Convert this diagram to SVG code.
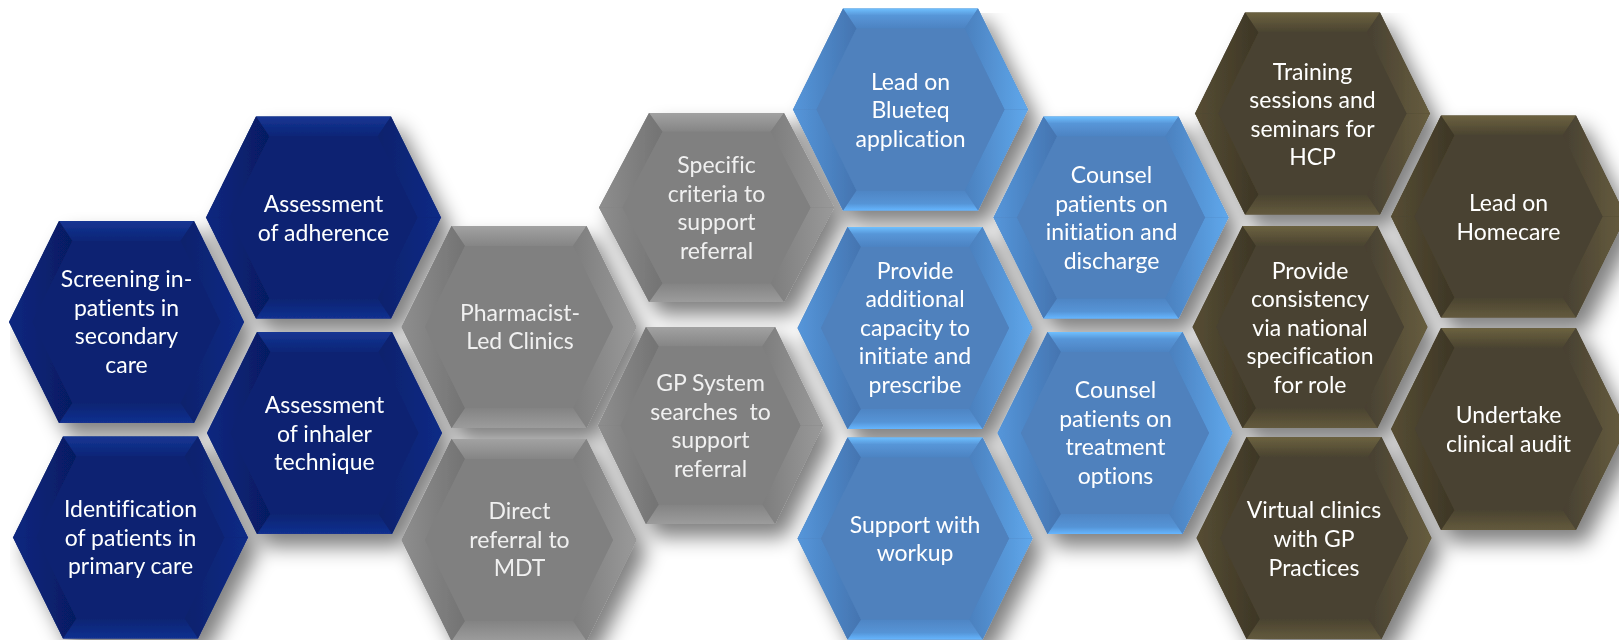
<svg xmlns="http://www.w3.org/2000/svg" xmlns:xlink="http://www.w3.org/1999/xlink" width="1619" height="640" viewBox="0 0 1619 640">
<style>
.t{font-family:Lato,"Open Sans","Liberation Sans",sans-serif;font-size:23px;fill:#ffffff;text-anchor:middle;white-space:pre;font-variant-ligatures:none;font-feature-settings:"liga" 0,"clig" 0}
.tg{fill:#f0f0f0}
</style>
<defs>
<filter id="sh" filterUnits="userSpaceOnUse" x="0" y="0" width="1619" height="640">
<feGaussianBlur in="SourceAlpha" stdDeviation="10"/>
<feOffset dx="10" dy="13" result="b"/>
<feComponentTransfer><feFuncA type="linear" slope="0.5"/></feComponentTransfer>
<feMerge><feMergeNode/><feMergeNode in="SourceGraphic"/></feMerge>
</filter>
<!-- navy -->
<linearGradient id="nT" x1="0" y1="0" x2="0" y2="1"><stop offset="0" stop-color="#163593"/><stop offset="1" stop-color="#0a2577"/></linearGradient>
<linearGradient id="nB" x1="0" y1="1" x2="0" y2="0"><stop offset="0" stop-color="#123090"/><stop offset="1" stop-color="#0a2472"/></linearGradient>
<linearGradient id="nL" x1="0" y1="0" x2="1" y2="0"><stop offset="0" stop-color="#0a2780"/><stop offset="1" stop-color="#061c62"/></linearGradient>
<linearGradient id="nR" x1="1" y1="0" x2="0" y2="0"><stop offset="0" stop-color="#0c2a86"/><stop offset="1" stop-color="#09226c"/></linearGradient>
<!-- grey -->
<linearGradient id="gT" x1="0" y1="0" x2="0" y2="1"><stop offset="0" stop-color="#a2a2a2"/><stop offset="1" stop-color="#858585"/></linearGradient>
<linearGradient id="gB" x1="0" y1="1" x2="0" y2="0"><stop offset="0" stop-color="#9c9c9c"/><stop offset="1" stop-color="#838383"/></linearGradient>
<linearGradient id="gL" x1="0" y1="0" x2="1" y2="0"><stop offset="0" stop-color="#8e8e8e"/><stop offset="1" stop-color="#737373"/></linearGradient>
<linearGradient id="gR" x1="1" y1="0" x2="0" y2="0"><stop offset="0" stop-color="#9a9a9a"/><stop offset="1" stop-color="#7d7d7d"/></linearGradient>
<!-- sky -->
<linearGradient id="sT" x1="0" y1="0" x2="0" y2="1"><stop offset="0" stop-color="#6fc0ff"/><stop offset="0.35" stop-color="#5796d8"/><stop offset="1" stop-color="#4d83c2"/></linearGradient>
<linearGradient id="sB" x1="0" y1="1" x2="0" y2="0"><stop offset="0" stop-color="#66b6ff"/><stop offset="0.35" stop-color="#5594d6"/><stop offset="1" stop-color="#4f85c4"/></linearGradient>
<linearGradient id="sL" x1="0" y1="0" x2="1" y2="0"><stop offset="0" stop-color="#5596da"/><stop offset="1" stop-color="#4474b0"/></linearGradient>
<linearGradient id="sR" x1="1" y1="0" x2="0" y2="0"><stop offset="0" stop-color="#5fa8ec"/><stop offset="1" stop-color="#4b80be"/></linearGradient>
<!-- olive -->
<linearGradient id="oT" x1="0" y1="0" x2="0" y2="1"><stop offset="0" stop-color="#6c6240"/><stop offset="1" stop-color="#4a4330"/></linearGradient>
<linearGradient id="oB" x1="0" y1="1" x2="0" y2="0"><stop offset="0" stop-color="#635a3d"/><stop offset="1" stop-color="#4a4330"/></linearGradient>
<linearGradient id="oL" x1="0" y1="0" x2="1" y2="0"><stop offset="0" stop-color="#564d33"/><stop offset="1" stop-color="#3d3626"/></linearGradient>
<linearGradient id="oR" x1="1" y1="0" x2="0" y2="0"><stop offset="0" stop-color="#675d3e"/><stop offset="1" stop-color="#474032"/></linearGradient>

<g id="hex-navy">
<polygon points="-117.5,0 -67.5,-101 67.5,-101 117.5,0 67.5,101 -67.5,101" fill="#0a2472"/>
<polygon points="-67.5,-101 67.5,-101 54,-81 -54,-81" fill="url(#nT)"/>
<polygon points="67.5,-101 117.5,0 94,0 54,-81" fill="url(#nR)"/>
<polygon points="117.5,0 67.5,101 54,81 94,0" fill="url(#nR)"/>
<polygon points="67.5,101 -67.5,101 -54,81 54,81" fill="url(#nB)"/>
<polygon points="-67.5,101 -117.5,0 -94,0 -54,81" fill="url(#nL)"/>
<polygon points="-117.5,0 -67.5,-101 -54,-81 -94,0" fill="url(#nL)"/>
<polygon points="-94,0 -54,-81 54,-81 94,0 54,81 -54,81" fill="#0a2472"/>
</g>
<g id="hex-grey">
<polygon points="-117.5,0 -67.5,-101 67.5,-101 117.5,0 67.5,101 -67.5,101" fill="#808080"/>
<polygon points="-67.5,-101 67.5,-101 54,-81 -54,-81" fill="url(#gT)"/>
<polygon points="67.5,-101 117.5,0 94,0 54,-81" fill="url(#gR)"/>
<polygon points="117.5,0 67.5,101 54,81 94,0" fill="url(#gR)"/>
<polygon points="67.5,101 -67.5,101 -54,81 54,81" fill="url(#gB)"/>
<polygon points="-67.5,101 -117.5,0 -94,0 -54,81" fill="url(#gL)"/>
<polygon points="-117.5,0 -67.5,-101 -54,-81 -94,0" fill="url(#gL)"/>
<polygon points="-94,0 -54,-81 54,-81 94,0 54,81 -54,81" fill="#808080"/>
</g>
<g id="hex-sky">
<polygon points="-117.5,0 -67.5,-101 67.5,-101 117.5,0 67.5,101 -67.5,101" fill="#4f81bd"/>
<polygon points="-67.5,-101 67.5,-101 54,-81 -54,-81" fill="url(#sT)"/>
<polygon points="67.5,-101 117.5,0 94,0 54,-81" fill="url(#sR)"/>
<polygon points="117.5,0 67.5,101 54,81 94,0" fill="url(#sR)"/>
<polygon points="67.5,101 -67.5,101 -54,81 54,81" fill="url(#sB)"/>
<polygon points="-67.5,101 -117.5,0 -94,0 -54,81" fill="url(#sL)"/>
<polygon points="-117.5,0 -67.5,-101 -54,-81 -94,0" fill="url(#sL)"/>
<polygon points="-94,0 -54,-81 54,-81 94,0 54,81 -54,81" fill="#4f81bd"/>
</g>
<g id="hex-olive">
<polygon points="-117.5,0 -67.5,-101 67.5,-101 117.5,0 67.5,101 -67.5,101" fill="#4a4330"/>
<polygon points="-67.5,-101 67.5,-101 54,-81 -54,-81" fill="url(#oT)"/>
<polygon points="67.5,-101 117.5,0 94,0 54,-81" fill="url(#oR)"/>
<polygon points="117.5,0 67.5,101 54,81 94,0" fill="url(#oR)"/>
<polygon points="67.5,101 -67.5,101 -54,81 54,81" fill="url(#oB)"/>
<polygon points="-67.5,101 -117.5,0 -94,0 -54,81" fill="url(#oL)"/>
<polygon points="-117.5,0 -67.5,-101 -54,-81 -94,0" fill="url(#oL)"/>
<polygon points="-94,0 -54,-81 54,-81 94,0 54,81 -54,81" fill="#4a4330"/>
</g>
</defs>

<rect width="1619" height="640" fill="#ffffff"/>

<g id="connectors"></g>

<g id="nodes" filter="url(#sh)">
<g id="n-screening">
<use xlink:href="#hex-navy" transform="translate(126.5,322)"/>
<text class="t"><tspan x="126.5" y="287">Screening in-</tspan><tspan x="126.5" y="315.7">patients in</tspan><tspan x="126.5" y="344.4">secondary</tspan><tspan x="126.5" y="373">care</tspan></text>
</g>
<g id="n-identification">
<use xlink:href="#hex-navy" transform="translate(130.5,537.5)"/>
<text class="t"><tspan x="130.5" y="517">Identification</tspan><tspan x="130.5" y="545.7">of patients in</tspan><tspan x="130.5" y="574.4">primary care</tspan></text>
</g>
<g id="n-adherence">
<use xlink:href="#hex-navy" transform="translate(323.5,217.5)"/>
<text class="t"><tspan x="323.5" y="212">Assessment</tspan><tspan x="323.5" y="240.5">of adherence</tspan></text>
</g>
<g id="n-inhaler">
<use xlink:href="#hex-navy" transform="translate(324.5,433)"/>
<text class="t"><tspan x="324.5" y="413">Assessment</tspan><tspan x="324.5" y="441.7">of inhaler</tspan><tspan x="324.5" y="470.4">technique</tspan></text>
</g>

<g id="n-pharmacist">
<use xlink:href="#hex-grey" transform="translate(519,327)"/>
<text class="t tg"><tspan x="520" y="320.5">Pharmacist-</tspan><tspan x="520" y="349">Led Clinics</tspan></text>
</g>
<g id="n-direct">
<use xlink:href="#hex-grey" transform="translate(519,540)"/>
<text class="t tg"><tspan x="519.5" y="519">Direct</tspan><tspan x="519.5" y="547.7">referral to</tspan><tspan x="519.5" y="576.4">MDT</tspan></text>
</g>
<g id="n-specific">
<use xlink:href="#hex-grey" transform="translate(716.5,207.5) scale(1,0.936)"/>
<text class="t tg"><tspan x="716.5" y="173">Specific</tspan><tspan x="716.5" y="201.5">criteria to</tspan><tspan x="716.5" y="230">support</tspan><tspan x="716.5" y="258.5">referral</tspan></text>
</g>
<g id="n-gpsystem">
<use xlink:href="#hex-grey" transform="translate(710.5,425.5) scale(0.957,0.975)"/>
<text class="t tg"><tspan x="710.5" y="391">GP System</tspan><tspan x="710.5" y="419.5">searches  to</tspan><tspan x="710.5" y="448">support</tspan><tspan x="710.5" y="476.5">referral</tspan></text>
</g>

<g id="n-blueteq">
<use xlink:href="#hex-sky" transform="translate(910.5,109.5)"/>
<text class="t"><tspan x="910.5" y="89.5">Lead on</tspan><tspan x="910.5" y="118">Blueteq</tspan><tspan x="910.5" y="146.7">application</tspan></text>
</g>
<g id="n-capacity">
<use xlink:href="#hex-sky" transform="translate(915,328)"/>
<text class="t"><tspan x="915" y="278.5">Provide</tspan><tspan x="915" y="307">additional</tspan><tspan x="915" y="335.7">capacity to</tspan><tspan x="915" y="364.3">initiate and</tspan><tspan x="915" y="393">prescribe</tspan></text>
</g>
<g id="n-workup">
<use xlink:href="#hex-sky" transform="translate(915,538.5)"/>
<text class="t"><tspan x="915" y="532.7">Support with</tspan><tspan x="915" y="561.4">workup</tspan></text>
</g>
<g id="n-counsel-initiation">
<use xlink:href="#hex-sky" transform="translate(1111,217.5)"/>
<text class="t"><tspan x="1111.5" y="183">Counsel</tspan><tspan x="1111.5" y="211.7">patients on</tspan><tspan x="1111.5" y="240">initiation and</tspan><tspan x="1111.5" y="268.5">discharge</tspan></text>
</g>
<g id="n-counsel-treatment">
<use xlink:href="#hex-sky" transform="translate(1115,433)"/>
<text class="t"><tspan x="1115.5" y="398">Counsel</tspan><tspan x="1115.5" y="426.7">patients on</tspan><tspan x="1115.5" y="455.4">treatment</tspan><tspan x="1115.5" y="484">options</tspan></text>
</g>

<g id="n-training">
<use xlink:href="#hex-olive" transform="translate(1312.5,113.5)"/>
<text class="t"><tspan x="1312.5" y="79.5">Training</tspan><tspan x="1312.5" y="108">sessions and</tspan><tspan x="1312.5" y="136.5">seminars for</tspan><tspan x="1312.5" y="165">HCP</tspan></text>
</g>
<g id="n-consistency">
<use xlink:href="#hex-olive" transform="translate(1310,327)"/>
<text class="t"><tspan x="1310" y="278.5">Provide</tspan><tspan x="1310" y="307">consistency</tspan><tspan x="1310" y="335.5">via national</tspan><tspan x="1310" y="364">specification</tspan><tspan x="1310" y="392.7">for role</tspan></text>
</g>
<g id="n-virtual">
<use xlink:href="#hex-olive" transform="translate(1314,538)"/>
<text class="t"><tspan x="1314" y="518.3">Virtual clinics</tspan><tspan x="1314" y="547">with GP</tspan><tspan x="1314" y="575.7">Practices</tspan></text>
</g>
<g id="n-homecare">
<use xlink:href="#hex-olive" transform="translate(1508.5,216.5)"/>
<text class="t"><tspan x="1508.5" y="211">Lead on</tspan><tspan x="1508.5" y="239.5">Homecare</tspan></text>
</g>
<g id="n-audit">
<use xlink:href="#hex-olive" transform="translate(1508.5,429)"/>
<text class="t"><tspan x="1508.5" y="423">Undertake</tspan><tspan x="1508.5" y="451.7">clinical audit</tspan></text>
</g>
</g>
</svg>
